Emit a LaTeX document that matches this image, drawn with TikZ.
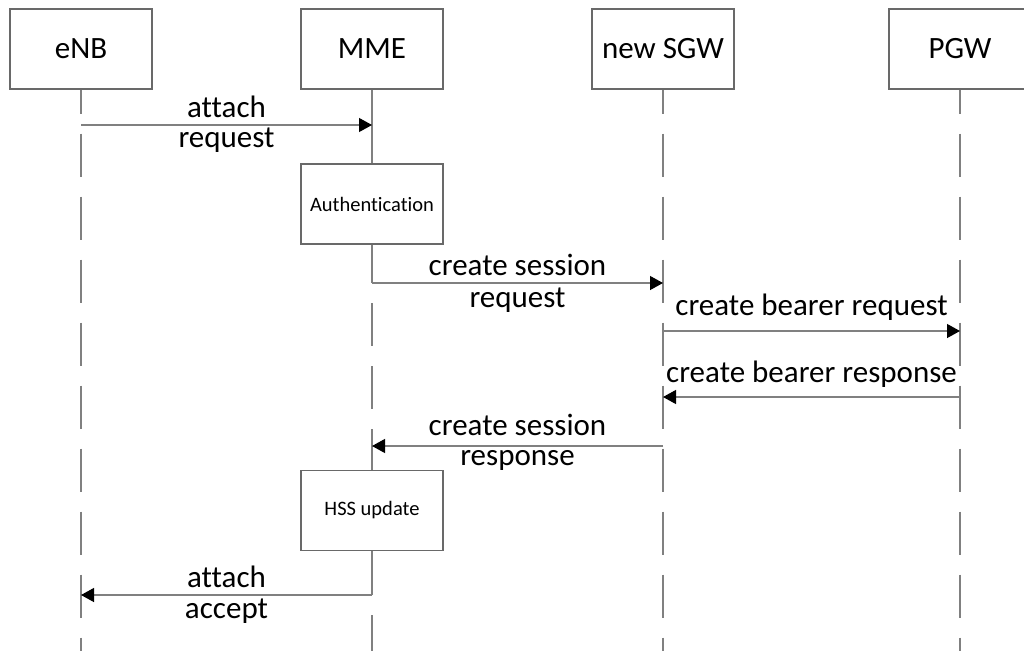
\documentclass[tikz,border=0pt]{standalone}
\usepackage{fontspec}
\setmainfont{Carlito}[Ligatures=NoCommon]
\usepackage{xcolor}
\usepackage{tikz}
\usetikzlibrary{positioning, arrows.meta}

\definecolor{linegray}{RGB}{128,128,128}
\definecolor{boxgray}{RGB}{105,105,105}

\begin{document}
\begin{tikzpicture}[x=1pt, y=-1pt, node distance=291pt, on grid,
  actor/.style={draw=boxgray, line width=1.2pt, minimum width=142pt, minimum height=80pt,
    inner sep=0pt, font=\fontsize{31}{37}\selectfont},
  task/.style={actor, font=\fontsize{20.5}{24}\selectfont},
  busy/.style={draw=linegray, line width=1.2pt},
  life/.style={busy, dash pattern=on 43pt off 20pt, dash phase=19pt},
  idle/.style={busy, dash pattern=on 43pt off 20pt, dash phase=43pt},
  msg/.style={busy, -{Triangle[length=13pt,width=14pt,color=black]}},
  lblup/.style={anchor=base, yshift=#1pt, inner sep=0pt, font=\fontsize{31}{37}\selectfont},
  lbldn/.style={anchor=base, yshift=-#1pt, inner sep=0pt, font=\fontsize{31}{37}\selectfont}]

  \useasboundingbox (0,0) rectangle (1024,651);

  % entities
  \node[actor] (enb) at (81,49) {eNB};
  \node[actor] (mme) [right=of enb] {MME};
  \node[actor] (sgw) [right=of mme] {new SGW};
  \node[actor] (pgw) [right=297pt of sgw] {PGW};

  \node[task] (auth) [below=155pt of mme] {Authentication};
  \node[task] (hss) [below=306.5pt of auth] {HSS update};

  % message rows
  \coordinate (r1) at (0,125);
  \coordinate (r2) at (0,283);
  \coordinate (r3) at (0,331);
  \coordinate (r4) at (0,397);
  \coordinate (r5) at (0,446);
  \coordinate (r6) at (0,595);
  \coordinate (bot) at (0,651);

  % lifelines
  \draw[life] (enb.south) -- (enb.south |- bot);
  \draw[life] (sgw.south) -- (sgw.south |- bot);
  \draw[life] (pgw.south) -- (pgw.south |- bot);

  \draw[busy] (mme.south) -- (auth.north);
  \draw[busy] (auth.south) -- (mme |- r2);
  \draw[idle] (mme |- r2) -- (mme |- r5);
  \draw[busy] (mme |- r5) -- (hss.north);
  \draw[busy] (hss.south) -- (mme |- r6);
  \draw[idle] (mme |- r6) -- (mme |- bot);

  % messages
  \draw[msg] (enb |- r1) -- (mme |- r1)
    node[midway, lblup=8] {attach} node[midway, lbldn=22] {request};
  \draw[msg] (mme |- r2) -- (sgw |- r2)
    node[midway, lblup=8] {create session} node[midway, lbldn=24] {request};
  \draw[msg] (sgw |- r3) -- (pgw |- r3)
    node[midway, lblup=16] {create bearer request};
  \draw[msg] (pgw |- r4) -- (sgw |- r4)
    node[midway, lblup=15] {create bearer response};
  \draw[msg] (sgw |- r5) -- (mme |- r5)
    node[midway, lblup=11] {create session} node[midway, lbldn=19] {response};
  \draw[msg] (mme |- r6) -- (enb |- r6)
    node[midway, lblup=8] {attach} node[midway, lbldn=23] {accept};

\end{tikzpicture}
\end{document}
